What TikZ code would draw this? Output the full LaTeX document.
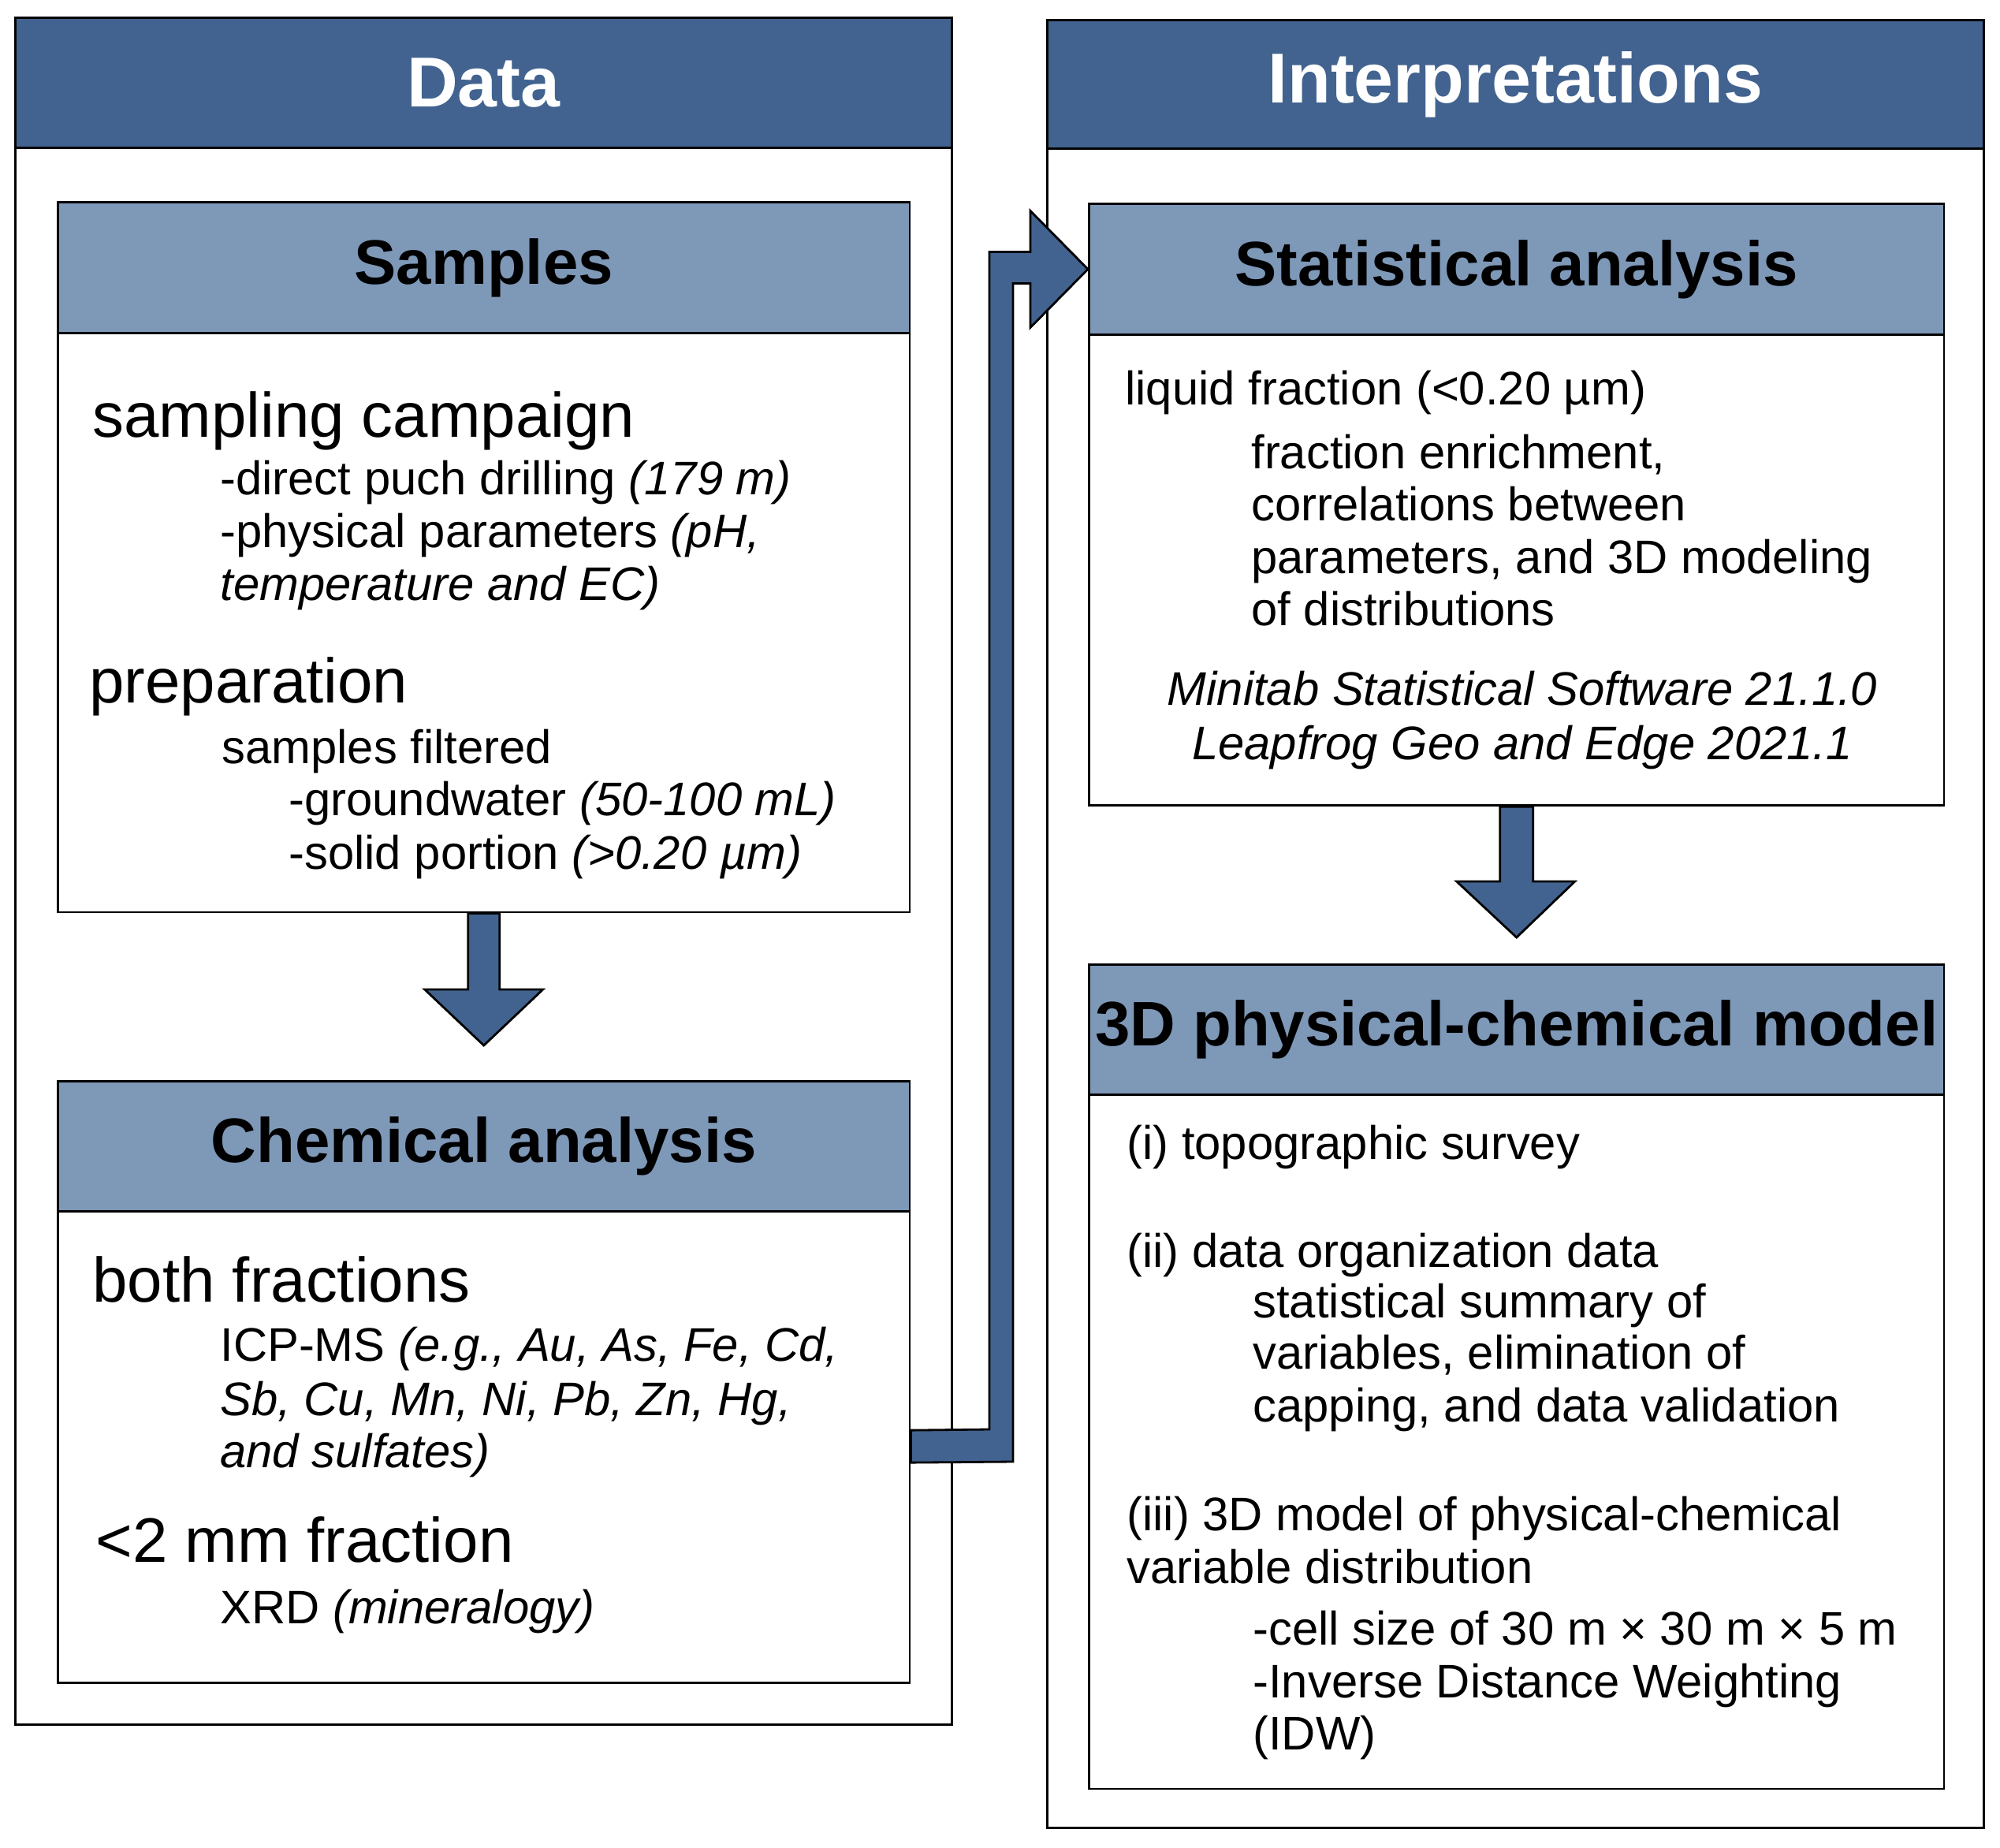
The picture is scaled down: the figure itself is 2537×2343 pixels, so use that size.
\documentclass[tikz,border=0pt]{standalone}
\usepackage{fontspec}
\setmainfont{Liberation Sans}
\usetikzlibrary{calc}
\definecolor{darkhead}{RGB}{66,99,143}
\definecolor{lighthead}{RGB}{126,152,184}
\begin{document}
\begin{tikzpicture}[x=0.01cm, y=-0.01cm, line width=0.8pt,
        frame/.style={draw, anchor=north west},
        mainhead/.style={draw, fill=darkhead, anchor=north west, inner sep=0pt, text=white, font=\bfseries\fontsize{25.5}{30}\selectfont},
        subhead/.style={draw, fill=lighthead, anchor=north west, inner sep=0pt, minimum height=1.66cm, font=\bfseries\fontsize{22.7}{27}\selectfont},
        txt/.style={anchor=base west, inner sep=0pt, font=\fontsize{17}{19}\selectfont},
        bigtxt/.style={txt, font=\fontsize{22.7}{27}\selectfont},
        fatarrow/.style={draw, fill=darkhead, line join=miter}]
        \useasboundingbox (0,0) rectangle (2537,2343);
        % outer frames
        \node[frame, minimum width=11.87cm, minimum height=21.64cm] (data) at (18,21) {};
        \node[mainhead, minimum width=11.87cm, minimum height=1.65cm] (datahead) at (data.north west) {Data};
        \node[frame, minimum width=11.87cm, minimum height=22.92cm] (interp) at (1327,24) {};
        \node[mainhead, minimum width=11.87cm, minimum height=1.63cm] (interphead) at (interp.north west) {Interpretations};
        % data side
        \node[frame, minimum width=10.80cm, minimum height=9.00cm] (samples) at (72,255) {};
        \node[subhead, minimum width=10.80cm] (sampleshead) at (samples.north west) {Samples};
        \node[bigtxt] (camp) at (116,555) {sampling campaign};
        \node[txt] (camp1) at (278,627) {-direct puch drilling \textit{(179 m)}};
        \node[txt] (camp2) at (278,694) {-physical parameters \textit{(pH,}};
        \node[txt] (camp3) at (278,761) {\textit{temperature and EC)}};
        \node[bigtxt] (prep) at (112,891) {preparation};
        \node[txt] (prep1) at (280,968) {samples filtered};
        \node[txt] (prep2) at (365,1034) {-groundwater \textit{(50-100 mL)}};
        \node[txt] (prep3) at (365,1102) {-solid portion \textit{(>0.20 µm)}};
        \node[frame, minimum width=10.80cm, minimum height=7.63cm] (chem) at (72,1370) {};
        \node[subhead, minimum width=10.80cm, minimum height=1.65cm] (chemhead) at (chem.north west) {Chemical analysis};
        \node[bigtxt] (both) at (116,1651) {both fractions};
        \node[txt] (both1) at (278,1726) {ICP-MS \textit{(e.g., Au, As, Fe, Cd,}};
        \node[txt] (both2) at (278,1795) {\textit{Sb, Cu, Mn, Ni, Pb, Zn, Hg,}};
        \node[txt] (both3) at (278,1861) {\textit{and sulfates)}};
        \node[bigtxt] (fine) at (120,1981) {<2 mm fraction};
        \node[txt] (fine1) at (278,2059) {XRD \textit{(mineralogy)}};
        % interpretation side
        \node[frame, minimum width=10.84cm, minimum height=7.63cm] (stat) at (1380,257) {};
        \node[subhead, minimum width=10.84cm] (stathead) at (stat.north west) {Statistical analysis};
        \node[txt] (liq) at (1426,514) {liquid fraction (<0.20 µm)};
        \node[txt] (liq1) at (1586,594) {fraction enrichment,};
        \node[txt] (liq2) at (1586,660) {correlations between};
        \node[txt] (liq3) at (1586,727) {parameters, and 3D modeling};
        \node[txt] (liq4) at (1586,793) {of distributions};
        \node[txt, anchor=base] (soft1) at (1931,894) {\textit{Minitab Statistical Software 21.1.0}};
        \node[txt, anchor=base] (soft2) at (1931,963) {\textit{Leapfrog Geo and Edge 2021.1}};
        \node[frame, minimum width=10.84cm, minimum height=10.45cm] (model) at (1380,1222) {};
        \node[subhead, minimum width=10.84cm, minimum height=1.65cm] (modelhead) at (model.north west) {3D physical-chemical model};
        \node[txt] (topo) at (1428,1470) {(i) topographic survey};
        \node[txt] (org) at (1428,1607) {(ii) data organization data};
        \node[txt] (org1) at (1588,1671) {statistical summary of};
        \node[txt] (org2) at (1588,1736) {variables, elimination of};
        \node[txt] (org3) at (1588,1803) {capping, and data validation};
        \node[txt] (var) at (1428,1941) {(iii) 3D model of physical-chemical};
        \node[txt] (var1) at (1428,2008) {variable distribution};
        \node[txt] (var2) at (1588,2086) {-cell size of 30 m × 30 m × 5 m};
        \node[txt] (var3) at (1588,2153) {-Inverse Distance Weighting};
        \node[txt] (var4) at (1588,2219) {(IDW)};
        % block arrows
        \draw[fatarrow] ($(samples.south)+(-20,0)$) -- ($(chem.north)+(-20,-115)$) -- ($(chem.north)+(-75,-115)$)
            -- ($(chem.north)+(0,-44)$) -- ($(chem.north)+(75,-115)$) -- ($(chem.north)+(20,-115)$) -- ($(samples.south)+(20,0)$) -- cycle;
        \draw[fatarrow] ($(stat.south)+(-21,0)$) -- ($(model.north)+(-21,-104)$) -- ($(model.north)+(-76,-104)$)
            -- ($(model.north)+(0,-33)$) -- ($(model.north)+(74,-104)$) -- ($(model.north)+(21,-104)$) -- ($(stat.south)+(21,0)$) -- cycle;
        \coordinate (turn) at (1270,1833);
        \draw[fatarrow] ($(chem.east)+(0,61)$) -- ($(turn)+(-15,-20)$) -- ($(turn |- stathead.west)+(-15,-22)$)
            -- ($(stathead.west)+(-73,-22)$) -- ($(stathead.west)+(-73,-74)$) -- (stathead.west)
            -- ($(stathead.west)+(-73,74)$) -- ($(stathead.west)+(-73,18)$) -- ($(turn |- stathead.west)+(15,18)$)
            -- ($(turn)+(15,21)$) -- ($(chem.east)+(0,102)$) -- cycle;
    \end{tikzpicture}
\end{document}
